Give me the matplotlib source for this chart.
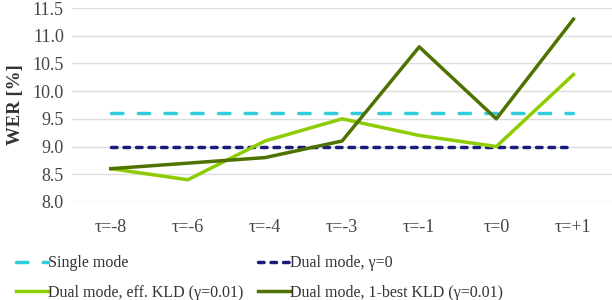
import matplotlib.pyplot as plt

plt.rcParams['font.family'] = ['Liberation Serif', 'DejaVu Serif']

taus = ['τ=-8', 'τ=-6', 'τ=-4', 'τ=-3', 'τ=-1', 'τ=0', 'τ=+1']
single_mode = [9.6] * 7
dual_mode = [9.0] * 7
eff_kld = [8.6, 8.4, 9.1, 9.5, 9.2, 9.0, 10.3]
best_kld = [8.6, 8.7, 8.8, 9.1, 10.8, 9.5, 11.3]

fig = plt.figure(figsize=(6.12, 3.0), dpi=100)
ax = fig.add_axes([0.118, 0.327, 0.882, 0.646])

x = list(range(len(taus)))
h1, = ax.plot(x, single_mode, color='#33CCDD', lw=2.5, dashes=(3.3, 4.4), dash_capstyle='round', label='Single mode')
h2, = ax.plot(x, dual_mode, color='#1B1B7E', lw=2.5, dashes=(1.6, 2.0), dash_capstyle='round', label='Dual mode, γ=0')
h3, = ax.plot(x, eff_kld, color='#8CCC00', lw=2.5, label='Dual mode, eff. KLD (γ=0.01)')
h4, = ax.plot(x, best_kld, color='#4E7200', lw=2.5, label='Dual mode, 1-best KLD (γ=0.01)')

ax.set_xlim(-0.5, len(taus) - 0.5)
ax.set_ylim(8.0, 11.5)
ax.set_yticks([8.0 + 0.5 * i for i in range(8)])
ax.set_yticklabels(['%.1f' % (8.0 + 0.5 * i) for i in range(8)])
ax.set_xticks(x)
ax.set_xticklabels(taus)
ax.grid(axis='y', color='#DDDDDD', lw=1)
ax.set_axisbelow(True)
for s in ax.spines.values():
    s.set_visible(False)
ax.tick_params(length=0, labelsize=13, colors='#444444', pad=6)
ax.tick_params(axis='x', pad=12)
ax.set_ylabel('WER [%]', fontsize=13.5, fontweight='bold', color='#333333', labelpad=6)

# row-wise order in the legend
fig.legend([h1, h3, h2, h4], [h.get_label() for h in [h1, h3, h2, h4]],
           loc='lower left', bbox_to_anchor=(0.01, -0.035), ncol=2, frameon=False,
           fontsize=11.5, handlelength=2.0, handletextpad=0.0, columnspacing=0.95,
           labelspacing=0.85, labelcolor='#333333', borderaxespad=0.2)

fig.savefig('out.png', dpi=100)
